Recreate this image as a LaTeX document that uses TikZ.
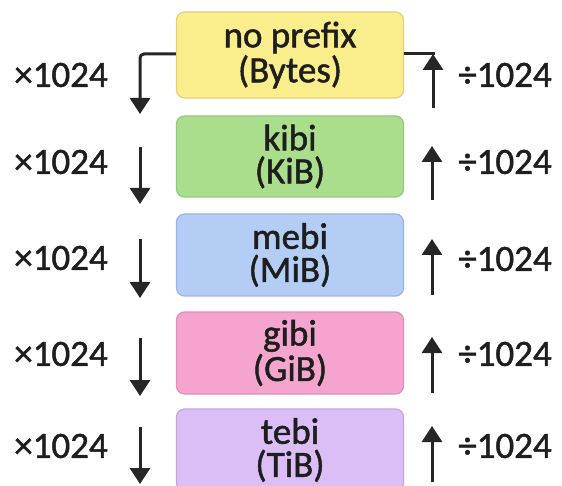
\documentclass[tikz,border=0pt]{standalone}
\usepackage{fontspec}
\setmainfont{Carlito}
\newfontfamily\medfont{Carlito}[FakeBold=1.3]
\usetikzlibrary{arrows.meta}
\definecolor{txt}{HTML}{1E1E1E}
\definecolor{yfill}{HTML}{FAEE8C}\definecolor{ydraw}{HTML}{E2CF78}
\definecolor{gfill}{HTML}{AADE8C}\definecolor{gdraw}{HTML}{92C97A}
\definecolor{bfill}{HTML}{B4CDF5}\definecolor{bdraw}{HTML}{9AB5E2}
\definecolor{pfill}{HTML}{F5A5CD}\definecolor{pdraw}{HTML}{E08FB8}
\definecolor{vfill}{HTML}{DABEF5}\definecolor{vdraw}{HTML}{C2A6E2}
\tikzset{
  unitbox/.style={rounded corners=4pt, line width=0.6pt, minimum width=113.5pt,
    align=center, inner sep=0pt, text=txt,
    font=\medfont\fontsize{18.5}{16.5}\selectfont},
  lab/.style={text=txt, inner sep=0pt, font=\medfont\fontsize{18.5}{20}\selectfont},
  conv/.style={line width=1.5pt, draw=black!85, -{Triangle[width=10pt,length=8pt]}},
  plainline/.style={line width=1.5pt, draw=black!85},
}
\begin{document}
\begin{tikzpicture}[x=0.5pt,y=-0.5pt]
\useasboundingbox (0,0) rectangle (562,486);
\fill[white] (0,0) rectangle (562,486);
% boxes
\node[unitbox, fill=yfill, draw=ydraw, minimum height=43pt] (b1) at (290,55) {no prefix\\(Bytes)};
\node[unitbox, fill=gfill, draw=gdraw, minimum height=40.5pt] (b2) at (290,156.5) {kibi\\(KiB)};
\node[unitbox, fill=bfill, draw=bdraw, minimum height=41pt] (b3) at (290,255) {mebi\\(MiB)};
\node[unitbox, fill=pfill, draw=pdraw, minimum height=41pt] (b4) at (290,353) {gibi\\(GiB)};
\node[unitbox, fill=vfill, draw=vdraw, minimum height=41pt] (b5) at (290,450) {tebi\\(TiB)};
% coordinates
\coordinate (l1c) at (140,54);  \coordinate (l1e) at (140,114);
\coordinate (r1c) at (433,54);  \coordinate (r1s) at (433,108);
\coordinate (l2s) at (140,147); \coordinate (l2e) at (140,204);
\coordinate (r2s) at (432,200); \coordinate (r2e) at (432,146);
\coordinate (l3s) at (140,239); \coordinate (l3e) at (140,298);
\coordinate (r3s) at (432,295); \coordinate (r3e) at (432,239);
\coordinate (l4s) at (140,338); \coordinate (l4e) at (140,396);
\coordinate (r4s) at (432,393); \coordinate (r4e) at (432,337);
\coordinate (l5s) at (140,427); \coordinate (l5e) at (140,484);
\coordinate (r5s) at (432,482); \coordinate (r5e) at (432,426);
% connectors
\draw[conv, rounded corners=2pt] (b1.west |- l1c) -- (l1c) -- (l1e);
\draw[plainline] (b1.east |- r1c) -- ([xshift=0.75pt]r1c);
\draw[conv] (r1s) -- (r1c);
\draw[conv] (l2s) -- (l2e); \draw[conv] (r2s) -- (r2e);
\draw[conv] (l3s) -- (l3e); \draw[conv] (r3s) -- (r3e);
\draw[conv] (l4s) -- (l4e); \draw[conv] (r4s) -- (r4e);
\draw[conv] (l5s) -- (l5e); \draw[conv] (r5s) -- (r5e);
% labels
\node[lab] (m1) at (61,75) {×1024};
\node[lab] (d1) at (505,75) {÷1024};
\node[lab] (m2) at (61,162) {×1024};
\node[lab] (d2) at (505,162) {÷1024};
\node[lab] (m3) at (61,258) {×1024};
\node[lab] (d3) at (505,259) {÷1024};
\node[lab] (m4) at (61,354) {×1024};
\node[lab] (d4) at (505,354) {÷1024};
\node[lab] (m5) at (61,446) {×1024};
\node[lab] (d5) at (505,446) {÷1024};
\end{tikzpicture}
\end{document}
